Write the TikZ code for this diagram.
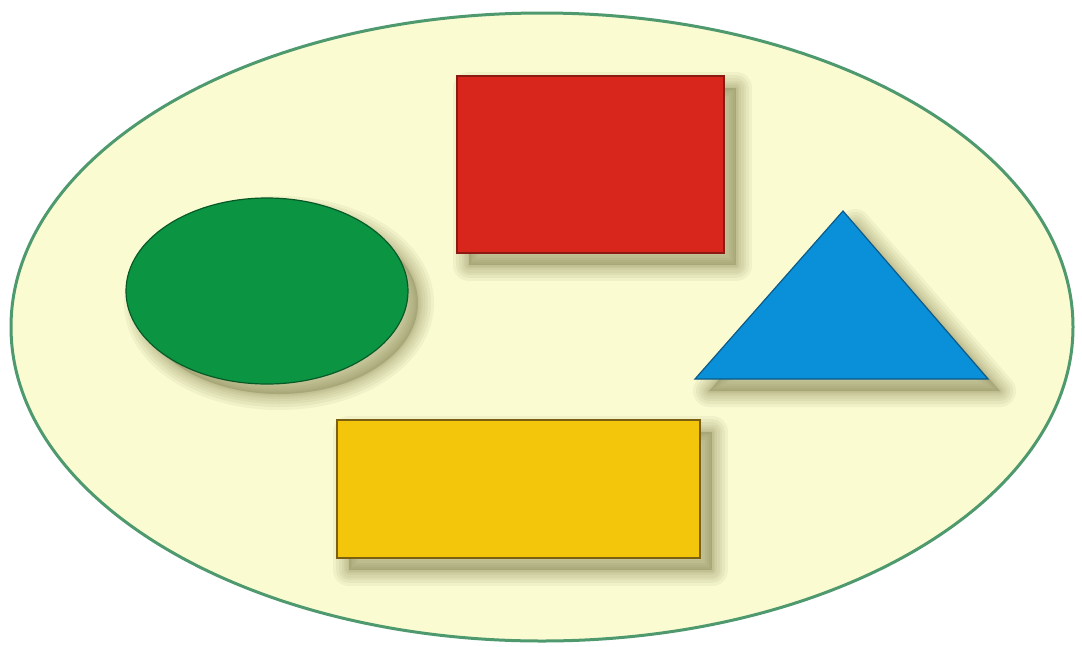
\documentclass[tikz,border=0pt]{standalone}
\usetikzlibrary{shapes.geometric}
\definecolor{bgfill}{HTML}{FBFBD2}
\definecolor{rimgreen}{HTML}{4E9A6E}
\definecolor{redfill}{HTML}{D9261C}
\definecolor{redline}{HTML}{8B1A12}
\definecolor{greenfill}{HTML}{0B9442}
\definecolor{greenline}{HTML}{075A28}
\definecolor{bluefill}{HTML}{0A90D8}
\definecolor{blueline}{HTML}{0B5A8A}
\definecolor{yellowfill}{HTML}{F4C60B}
\definecolor{yellowline}{HTML}{7A6010}
\definecolor{shadowcol}{HTML}{6E6E3C}
\newcommand\softshadow[1]{%
  \foreach \w in {32,26,20,15,10,6,3} {\draw[shadowcol, opacity=0.07, line width=\w pt, line join=round] #1;}%
  \fill[shadowcol, opacity=0.30] #1;}
\begin{document}
\begin{tikzpicture}[x=1pt,y=-1pt,
  shape line/.style={line width=1.2pt}]
\useasboundingbox (0,0) rectangle (1082,646);
\fill[white] (0,0) rectangle (1082,646);
\node[ellipse, draw=rimgreen, line width=3pt, fill=bgfill, minimum width=1062pt, minimum height=628pt, inner sep=0pt] (plate) at (542,327) {};
% shadows
\softshadow{(469,88) rectangle (736,265)}
\softshadow{(279,303) ellipse [x radius=139, y radius=91]}
\softshadow{(855,225) -- (1000,391) -- (709,391) -- cycle}
\softshadow{(349,432) rectangle (712,570)}
% shapes
\node[rectangle, fill=redfill, draw=redline, shape line, minimum width=267pt, minimum height=177pt, inner sep=0pt] (square) at (590.5,164.5) {};
\node[ellipse, fill=greenfill, draw=greenline, shape line, minimum width=282pt, minimum height=186pt, inner sep=0pt] (circle) at (267,291) {};
\coordinate (apex) at (843,211);
\coordinate (bright) at (988,379);
\coordinate (bleft) at (695,379);
\filldraw[fill=bluefill, draw=blueline, shape line, line join=miter] (apex) -- (bright) -- (bleft) -- cycle;
\node[rectangle, fill=yellowfill, draw=yellowline, shape line, minimum width=363pt, minimum height=138pt, inner sep=0pt] (bar) at (518.5,489) {};
\end{tikzpicture}
\end{document}
